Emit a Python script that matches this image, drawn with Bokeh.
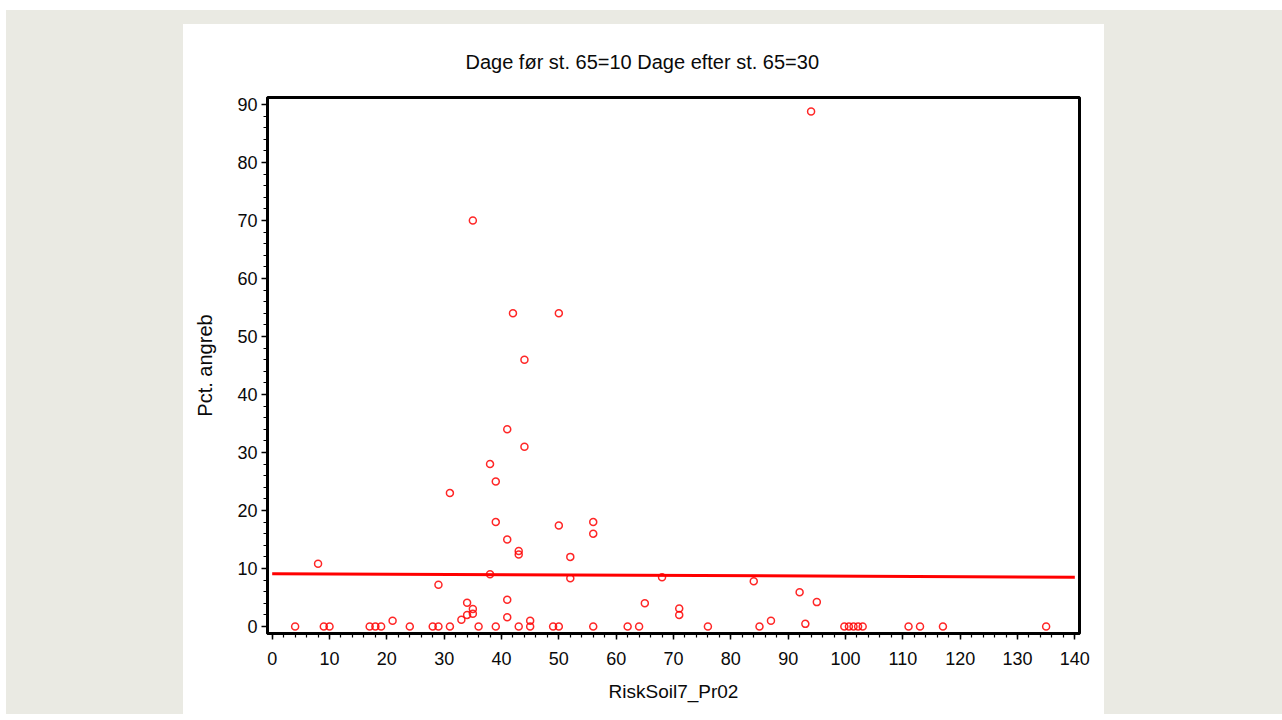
import numpy as np
from bokeh.plotting import figure
from bokeh.models import Range1d, Spacer, FixedTicker, Title
from bokeh.layouts import row, column
from bokeh.embed import file_html
from bokeh.resources import INLINE

# ---- data ----
risk_soil = [4, 8, 9, 10, 17, 18, 19, 21, 24, 28,
             29, 29, 31, 31, 33, 34, 34, 35, 35, 35,
             36, 38, 38, 39, 39, 39, 41, 41, 41, 41,
             42, 43, 43, 43, 44, 44, 45, 45, 49, 50,
             50, 50, 52, 52, 56, 56, 56, 62, 64, 65,
             68, 71, 71, 76, 84, 85, 87, 92, 93, 94,
             95, 99.8, 100.6, 101.4, 102.2, 103, 111, 113, 117, 135]
pct_angreb = [0, 10.8, 0, 0, 0, 0, 0, 1, 0, 0,
              0, 7.2, 0, 23, 1.15, 4.1, 2, 3, 2.2, 70,
              0, 9, 28, 0, 25, 18, 34, 15, 4.6, 1.6,
              54, 0, 13, 12.4, 46, 31, 1, 0, 0, 0,
              54, 17.4, 12, 8.3, 0, 18, 16, 0, 0, 4,
              8.5, 3.1, 2, 0, 7.8, 0, 1, 5.9, 0.45, 88.8,
              4.2, 0, 0, 0, 0, 0, 0, 0, 0, 0]
fit_intercept = 9.09
fit_slope = -0.0042
fit_domain = [0, 140]
x_ticks = list(range(0, 141, 10))
y_ticks = list(range(0, 91, 10))
title_text = "Dage før st. 65=10  Dage efter st. 65=30"
x_label = "RiskSoil7_Pr02"
y_label = "Pct. angreb"

FONT = "Liberation Sans"
BG = "#eaeae3"
TXT = "#0a0a0a"

p = figure(width=921, height=690, output_backend="svg", toolbar_location=None,
           x_range=Range1d(-0.82, 140.82), y_range=Range1d(-1.21, 91.2),
           min_border_left=84, min_border_right=25, min_border_top=73,
           min_border_bottom=81)
p.border_fill_color = "white"
p.background_fill_color = "white"
p.outline_line_color = "black"
p.outline_line_width = 3
p.grid.visible = False

fx = np.array(fit_domain, dtype=float)
fy = fit_intercept + fit_slope * fx
p.line(fx, fy, line_color="red", line_width=3)

p.scatter(risk_soil, pct_angreb, marker="circle", size=7, fill_color=None,
          line_color="red", line_width=1.5, line_alpha=0.85)

for ax in (p.xaxis[0], p.yaxis[0]):
    ax.axis_line_color = "black"
    ax.axis_line_width = 3
    ax.major_tick_line_color = "black"
    ax.major_tick_line_width = 1.5
    ax.major_tick_out = 6
    ax.major_tick_in = 0
    ax.minor_tick_line_color = "black"
    ax.minor_tick_line_width = 1.2
    ax.minor_tick_out = 4
    ax.minor_tick_in = 0
    ax.major_label_text_font = FONT
    ax.major_label_text_font_size = "18px"
    ax.major_label_text_color = TXT
    ax.axis_label_text_font = FONT
    ax.axis_label_text_font_style = "normal"
    ax.axis_label_text_color = TXT

p.xaxis[0].ticker = FixedTicker(ticks=x_ticks,
                                minor_ticks=np.arange(0, 141, 2).tolist())
p.yaxis[0].ticker = FixedTicker(ticks=y_ticks,
                                minor_ticks=np.arange(0, 91, 2).tolist())
p.xaxis[0].axis_label = x_label
p.xaxis[0].axis_label_text_font_size = "19px"
p.xaxis[0].major_label_standoff = 12
p.xaxis[0].axis_label_standoff = 13
p.yaxis[0].axis_label = y_label
p.yaxis[0].axis_label_text_font_size = "20px"
p.yaxis[0].major_label_standoff = 4
p.yaxis[0].axis_label_standoff = 18

p.add_layout(Title(text=title_text, align="left", offset=198, standoff=49,
                   text_font=FONT, text_font_size="20px",
                   text_font_style="normal", text_color=TXT), "above")

W = 1282
white_top = Spacer(width=W, height=10, styles={"background-color": "white"})
white_left = Spacer(width=6, height=704, styles={"background-color": "white"})
gray_left = Spacer(width=177, height=704, styles={"background-color": BG})
gray_top = Spacer(width=921, height=14, styles={"background-color": BG})
gray_right = Spacer(width=W - 6 - 177 - 921, height=704,
                    styles={"background-color": BG})
layout = column(white_top,
                row(white_left, gray_left, column(gray_top, p, spacing=0),
                    gray_right, spacing=0),
                spacing=0)

open("out.html", "w").write(file_html(layout, INLINE))
